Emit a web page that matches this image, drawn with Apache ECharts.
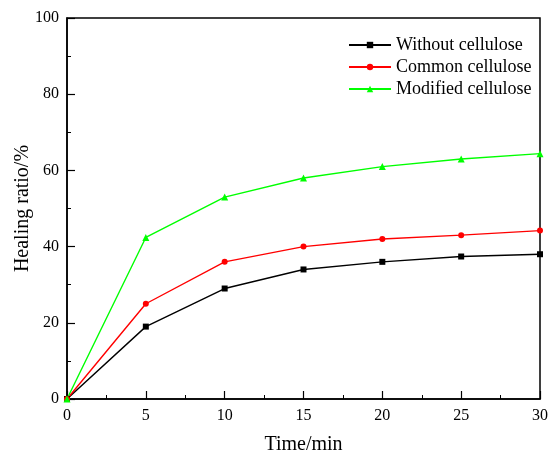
<!DOCTYPE html>
<html>
<head>
<meta charset="utf-8">
<script src="https://cdn.jsdelivr.net/npm/echarts@6/dist/echarts.min.js"></script>
<style>
  html, body { margin: 0; padding: 0; background: #fff; }
  #chart { width: 550px; height: 455px; }
</style>
</head>
<body>
<div id="chart"></div>
<script>
const times = [0, 5, 10, 15, 20, 25, 30]
const withoutCellulose = [0, 19, 29, 34, 36, 37.4, 38]
const commonCellulose = [0, 25, 36, 40, 42, 43, 44.2]
const modifiedCellulose = [0, 42.4, 53, 58, 61, 63, 64.4]

const font = 'Liberation Serif, Times New Roman, serif'

const pairs = arr => times.map((t, i) => [t, arr[i]])

const mkSeries = (name, data, color, symbol, size) => ({
  name,
  type: 'line',
  data: pairs(data),
  symbol,
  symbolSize: size,
  lineStyle: { color, width: 1.4 },
  itemStyle: { color },
  animation: false
})

const chart = echarts.init(document.getElementById('chart'))
chart.setOption({
  backgroundColor: '#fff',
  grid: {
    left: 67, right: 10, top: 18, bottom: 56,
    outerBoundsMode: 'none',
    show: true, borderColor: '#000', borderWidth: 1.5
  },
  legend: {
    left: 343, top: 31, orient: 'vertical', itemGap: 4,
    itemWidth: 42, itemHeight: 8,
    textStyle: { fontFamily: font, fontSize: 18, color: '#000' }
  },
  xAxis: {
    type: 'value', min: 0, max: 30, interval: 5,
    name: 'Time/min', nameLocation: 'middle', nameGap: 36,
    nameMoveOverlap: false,
    nameTextStyle: { fontFamily: font, fontSize: 20, color: '#000' },
    axisLine: { lineStyle: { color: '#000', width: 1.5 } },
    axisTick: { inside: true, length: 8, lineStyle: { color: '#000', width: 1.2 } },
    minorTick: { show: true, splitNumber: 2, length: 4, lineStyle: { color: '#000', width: 1 } },
    axisLabel: { fontFamily: font, fontSize: 16, color: '#000', margin: 9 },
    splitLine: { show: false }
  },
  yAxis: {
    type: 'value', min: 0, max: 100, interval: 20,
    name: 'Healing ratio/%', nameLocation: 'middle', nameGap: 34,
    nameMoveOverlap: false,
    nameTextStyle: { fontFamily: font, fontSize: 20, color: '#000' },
    axisLine: { show: true, lineStyle: { color: '#000', width: 1.5 } },
    axisTick: { show: true, inside: true, length: 8, lineStyle: { color: '#000', width: 1.2 } },
    minorTick: { show: true, splitNumber: 2, length: 4, lineStyle: { color: '#000', width: 1 } },
    axisLabel: { fontFamily: font, fontSize: 16, color: '#000', margin: 8 },
    splitLine: { show: false }
  },
  series: [
    mkSeries('Without cellulose', withoutCellulose, '#000000', 'rect', 6),
    mkSeries('Common cellulose', commonCellulose, '#ff0000', 'circle', 6),
    mkSeries('Modified cellulose', modifiedCellulose, '#00ff00', 'triangle', 7)
  ]
})
</script>
</body>
</html>
